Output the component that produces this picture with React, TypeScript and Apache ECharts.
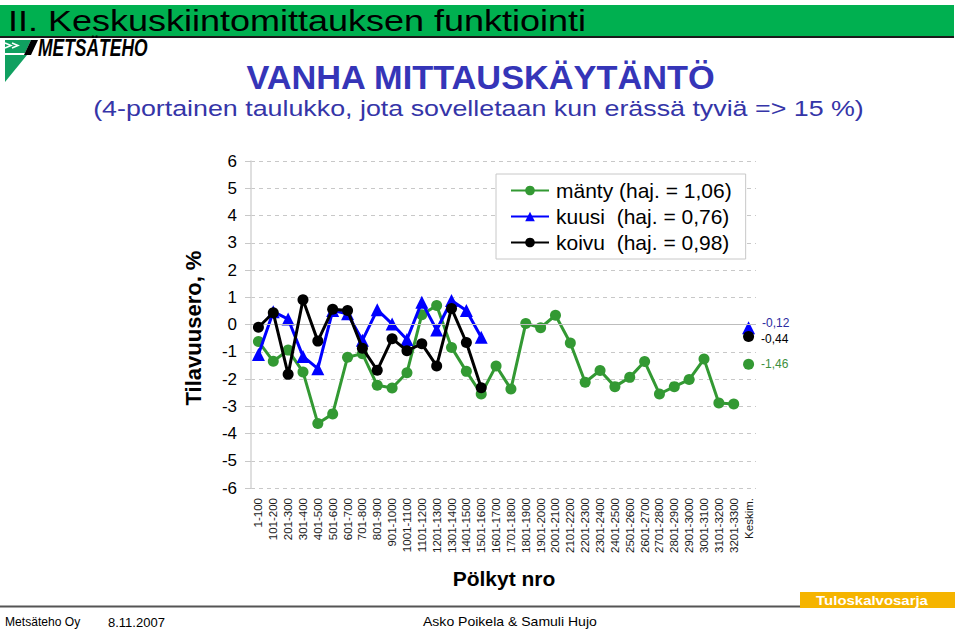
import React, { useEffect, useRef } from "react";
import * as echarts from "echarts";

const categories = [
  "1-100", "101-200", "201-300", "301-400", "401-500", "501-600", "601-700", "701-800",
  "801-900", "901-1000", "1001-1100", "1101-1200", "1201-1300", "1301-1400", "1401-1500",
  "1501-1600", "1601-1700", "1701-1800", "1801-1900", "1901-2000", "2001-2100", "2101-2200",
  "2201-2300", "2301-2400", "2401-2500", "2501-2600", "2601-2700", "2701-2800", "2801-2900",
  "2901-3000", "3001-3100", "3101-3200", "3201-3300", "Keskim.",
];

const manty = [
  -0.62, -1.35, -0.94, -1.74, -3.63, -3.28, -1.2, -1.07, -2.23, -2.33, -1.77, 0.36, 0.7,
  -0.84, -1.72, -2.55, -1.52, -2.37, 0.04, -0.12, 0.34, -0.68, -2.12, -1.69, -2.28, -1.94,
  -1.36, -2.55, -2.28, -2.02, -1.27, -2.88, -2.92,
];
const kuusi = [
  -1.1, 0.47, 0.2, -1.17, -1.62, 0.51, 0.39, -0.58, 0.54, 0.02, -0.55, 0.82, -0.2, 0.88,
  0.51, -0.47,
];
const koivu = [
  -0.1, 0.43, -1.83, 0.91, -0.61, 0.56, 0.51, -0.87, -1.68, -0.52, -0.96, -0.71, -1.52,
  0.59, -0.66, -2.32,
];
const keskimManty = -1.46;
const keskimKuusi = -0.12;
const keskimKoivu = -0.44;

const yTicks = { min: -6, max: 6, interval: 1 };

const FONT = "'Liberation Sans', Arial, sans-serif";
const GREEN = "#339933";
const BLUE = "#0000ff";
const BLACK = "#000000";

function pad(arr: number[]) {
  const out: (number | null)[] = [];
  for (let i = 0; i < categories.length; i++) out.push(i < arr.length ? arr[i] : null);
  return out;
}
function lastOnly(v: number) {
  const out: (number | null)[] = [];
  for (let i = 0; i < categories.length; i++) out.push(i === categories.length - 1 ? v : null);
  return out;
}
const fmt = (p: any) => Number(p.value).toFixed(2).replace(".", ",");

export default function App() {
  const ref = useRef<HTMLDivElement>(null);
  useEffect(() => {
    if (!ref.current) return;
    const chart = echarts.init(ref.current, null, { renderer: "svg" });
    const option: any = {
      animation: false,
      backgroundColor: "#ffffff",
      textStyle: { fontFamily: FONT },
      grid: { left: 251, right: 204, top: 161, bottom: 141, containLabel: false },
      legend: {
        data: ["mänty (haj. = 1,06)", "kuusi  (haj. = 0,76)", "koivu  (haj. = 0,98)"],
        orient: "vertical",
        left: 496,
        top: 174,
        padding: [6, 14, 6, 14],
        itemGap: 5,
        itemWidth: 38,
        itemHeight: 12,
        borderColor: "#c8c8c8",
        borderWidth: 1,
        backgroundColor: "#ffffff",
        textStyle: { fontFamily: FONT, fontSize: 21, color: "#000", lineHeight: 20, padding: [0, 0, 0, 2] },
      },
      xAxis: {
        type: "category",
        data: categories,
        boundaryGap: true,
        axisLine: { show: false },
        axisTick: { show: false },
        splitLine: { show: false },
        axisLabel: { rotate: 90, interval: 0, fontSize: 11.5, margin: 10, color: "#1a1a1a", fontFamily: FONT },
      },
      yAxis: {
        type: "value",
        min: yTicks.min,
        max: yTicks.max,
        interval: yTicks.interval,
        axisLine: { show: true, lineStyle: { color: "#d4d4d4", width: 1.5 } },
        axisTick: { show: true, length: 6, lineStyle: { color: "#c8c8c8" } },
        axisLabel: { fontSize: 17, color: "#000", margin: 14, fontFamily: FONT },
        splitLine: { show: true, lineStyle: { color: "#c8c8c8", type: [4, 4], width: 1 } },
      },
      graphic: [
        { type: "rect", shape: { x: 0, y: 5, width: 954, height: 32 }, style: { fill: "#00b050" } },
        { type: "rect", shape: { x: 0, y: 36, width: 954, height: 2 }, style: { fill: "#1a1a1a" } },
        {
          type: "text", x: 8, y: 21, scaleX: 1.2,
          style: { text: "II. Keskuskiintomittauksen funktiointi", fontSize: 30, fontFamily: FONT, fill: "#000", align: "left", verticalAlign: "middle" },
        },
        { type: "polygon", shape: { points: [[5, 40], [31, 40], [25, 53], [5, 53]] }, style: { fill: "#10a060" } },
        { type: "polyline", shape: { points: [[5, 43], [11, 45.5], [5, 48]] }, style: { stroke: "#fff", lineWidth: 1.5, fill: null } },
        { type: "polyline", shape: { points: [[12, 43], [18, 45.5], [12, 48]] }, style: { stroke: "#fff", lineWidth: 1.5, fill: null } },
        { type: "polygon", shape: { points: [[31, 40], [38, 40], [31, 55], [24, 55]] }, style: { fill: "#000" } },
        { type: "polygon", shape: { points: [[5, 55], [27, 55], [5, 82]] }, style: { fill: "#10a060" } },
        {
          type: "text", x: 38, y: 48.5, scaleX: 0.76,
          style: { text: "METSÄTEHO", fontSize: 23, fontWeight: "bold", fontStyle: "italic", fontFamily: FONT, fill: "#000", align: "left", verticalAlign: "middle" },
        },
        {
          type: "text", x: 480.5, y: 78, scaleX: 1.04,
          style: { text: "VANHA MITTAUSKÄYTÄNTÖ", fontSize: 33, fontWeight: "bold", fontFamily: FONT, fill: "#3535b8", align: "center", verticalAlign: "middle" },
        },
        {
          type: "text", x: 478.5, y: 108, scaleX: 1.22,
          style: { text: "(4-portainen taulukko, jota sovelletaan kun erässä tyviä => 15 %)", fontSize: 22, fontFamily: FONT, fill: "#3535a8", align: "center", verticalAlign: "middle" },
        },
        {
          type: "text", x: 193, y: 328, rotation: Math.PI / 2,
          style: { text: "Tilavuusero, %", fontSize: 22, fontWeight: "bold", fontFamily: FONT, fill: "#000", align: "center", verticalAlign: "middle" },
        },
        {
          type: "text", x: 504, y: 578,
          style: { text: "Pölkyt nro", fontSize: 21, fontWeight: "bold", fontFamily: FONT, fill: "#000", align: "center", verticalAlign: "middle" },
        },
        { type: "rect", shape: { x: 0, y: 605.5, width: 800, height: 2 }, style: { fill: "#555" } },
        { type: "rect", shape: { x: 800, y: 592, width: 155, height: 16 }, style: { fill: "#f5b400" } },
        {
          type: "text", x: 872, y: 600.5, scaleX: 1.15,
          style: { text: "Tuloskalvosarja", fontSize: 13, fontWeight: "bold", fontFamily: FONT, fill: "#fff", align: "center", verticalAlign: "middle" },
        },
        {
          type: "text", x: 5, y: 622, scaleX: 0.93,
          style: { text: "Metsäteho Oy", fontSize: 13, fontFamily: FONT, fill: "#000", align: "left", verticalAlign: "middle" },
        },
        {
          type: "text", x: 108, y: 622,
          style: { text: "8.11.2007", fontSize: 13, fontFamily: FONT, fill: "#000", align: "left", verticalAlign: "middle" },
        },
        {
          type: "text", x: 423, y: 622, scaleX: 1.08,
          style: { text: "Asko Poikela & Samuli Hujo", fontSize: 13, fontFamily: FONT, fill: "#000", align: "left", verticalAlign: "middle" },
        },
      ],
      series: [
        {
          name: "zero",
          type: "line",
          data: categories.map(() => null),
          z: 1,
          silent: true,
          symbol: "none",
          markLine: {
            silent: true,
            symbol: "none",
            label: { show: false },
            lineStyle: { color: "#bdbdbd", type: "solid", width: 1 },
            data: [{ yAxis: 0 }],
          },
        },
        {
          name: "mänty (haj. = 1,06)",
          type: "line",
          data: pad(manty),
          z: 3,
          symbol: "circle",
          symbolSize: 11,
          connectNulls: false,
          itemStyle: { color: GREEN },
          lineStyle: { color: GREEN, width: 3 },
        },
        {
          name: "kuusi  (haj. = 0,76)",
          type: "line",
          data: pad(kuusi),
          z: 4,
          symbol: "triangle",
          symbolSize: 13,
          itemStyle: { color: BLUE },
          lineStyle: { color: BLUE, width: 3 },
        },
        {
          name: "koivu  (haj. = 0,98)",
          type: "line",
          data: pad(koivu),
          z: 5,
          symbol: "circle",
          symbolSize: 11,
          itemStyle: { color: BLACK },
          lineStyle: { color: BLACK, width: 3 },
        },
        {
          name: "keskim-manty",
          type: "line",
          data: lastOnly(keskimManty),
          z: 3,
          symbol: "circle",
          symbolSize: 11,
          itemStyle: { color: GREEN },
          lineStyle: { width: 0 },
          label: { show: true, position: "right", distance: 7, formatter: fmt, color: "#3d8f3d", fontSize: 12, fontFamily: FONT },
        },
        {
          name: "keskim-kuusi",
          type: "line",
          data: lastOnly(keskimKuusi),
          z: 4,
          symbol: "triangle",
          symbolSize: 13,
          itemStyle: { color: BLUE },
          lineStyle: { width: 0 },
          label: { show: true, position: "right", distance: 7, offset: [0, -5], formatter: fmt, color: "#2b2ba0", fontSize: 12, fontFamily: FONT },
        },
        {
          name: "keskim-koivu",
          type: "line",
          data: lastOnly(keskimKoivu),
          z: 5,
          symbol: "circle",
          symbolSize: 11,
          itemStyle: { color: BLACK },
          lineStyle: { width: 0 },
          label: { show: true, position: "right", distance: 7, offset: [0, 3], formatter: fmt, color: "#000", fontSize: 12, fontFamily: FONT },
        },
      ],
    };
    chart.setOption(option);
    return () => chart.dispose();
  }, []);
  return (
    <div
      ref={ref}
      style={{ position: "fixed", left: 0, top: 0, width: 960, height: 629, background: "#fff" }}
    />
  );
}
